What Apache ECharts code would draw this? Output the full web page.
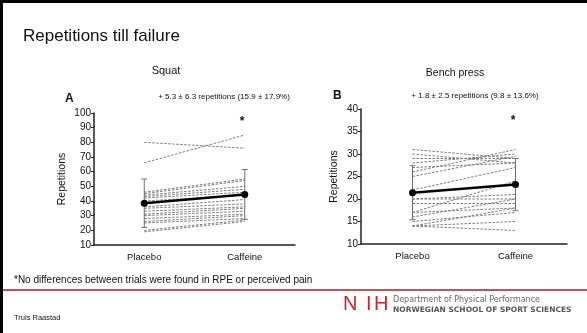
<!DOCTYPE html>
<html>
<head>
<meta charset="utf-8">
<script src="https://cdn.jsdelivr.net/npm/echarts@6/dist/echarts.min.js"></script>
<style>
  html, body { margin: 0; padding: 0; background: #fff; }
  #chart { width: 587px; height: 333px; }
</style>
</head>
<body>
<div id="chart"></div>
<script>
var categories = ['Placebo', 'Caffeine']

// squat, one pair per subject (placebo, caffeine)
var squatPlacebo = [80, 66, 46, 45, 44, 43, 42, 40, 36, 35, 33, 31, 30, 28, 26, 25, 20, 19]
var squatCaffeine = [76, 85, 55, 54, 50, 48, 46, 44, 41, 38, 36, 35, 33, 31, 30, 28, 27, 26]
var squatMean = [38.5, 44.5]
var squatSd = [16.5, 17]
var squatAxis = [10, 100, 10]

// bench press
var benchPlacebo = [31, 30, 29, 28, 27, 26, 25, 22, 20, 20, 19, 17, 17, 16, 15, 14, 14, 14]
var benchCaffeine = [29, 28, 29, 30, 28, 31, 29.5, 27, 21, 20, 19, 24, 18, 20, 17, 18, 13, 15]
var benchMean = [21.4, 23.2]
var benchSd = [6, 5.8]
var benchAxis = [10, 40, 5]

var chart = echarts.init(document.getElementById('chart'))
var font = 'Liberation Sans, Arial, sans-serif'

function subjectSeries(pre, post, idx) {
  return pre.map(function (v, i) {
    return {
      type: 'line',
      xAxisIndex: idx,
      yAxisIndex: idx,
      data: [v, post[i]],
      symbol: 'none',
      silent: true,
      z: 2,
      lineStyle: { color: '#7a7a7a', width: 1, type: [2.5, 1.5] }
    }
  })
}

function errorSeries(mean, sd, idx) {
  return {
    type: 'custom',
    xAxisIndex: idx,
    yAxisIndex: idx,
    silent: true,
    z: 3,
    data: mean.map(function (m, i) { return [i, m - sd[i], m + sd[i]] }),
    renderItem: function (params, api) {
      var lo = api.coord([api.value(0), api.value(1)])
      var hi = api.coord([api.value(0), api.value(2)])
      var st = { stroke: '#6f6f6f', lineWidth: 1 }
      return {
        type: 'group',
        children: [
          { type: 'line', shape: { x1: lo[0], y1: lo[1], x2: hi[0], y2: hi[1] }, style: st },
          { type: 'line', shape: { x1: lo[0] - 3, y1: lo[1], x2: lo[0] + 3, y2: lo[1] }, style: st },
          { type: 'line', shape: { x1: hi[0] - 3, y1: hi[1], x2: hi[0] + 3, y2: hi[1] }, style: st }
        ]
      }
    }
  }
}

function meanSeries(mean, idx) {
  return {
    type: 'line',
    xAxisIndex: idx,
    yAxisIndex: idx,
    data: mean,
    symbol: 'circle',
    symbolSize: 7,
    silent: true,
    z: 5,
    itemStyle: { color: '#000' },
    lineStyle: { color: '#000', width: 2.5 }
  }
}

function xAxis(idx) {
  return {
    type: 'category',
    gridIndex: idx,
    data: categories,
    axisLine: { lineStyle: { color: '#222', width: 1.5 } },
    axisTick: { alignWithLabel: true, length: 4, lineStyle: { color: '#222' } },
    axisLabel: { color: '#111', fontSize: 9.5, fontFamily: font, margin: 7 }
  }
}

function yAxis(idx, ax, gap) {
  return {
    type: 'value',
    gridIndex: idx,
    min: ax[0],
    max: ax[1],
    interval: ax[2],
    name: 'Repetitions',
    nameLocation: 'middle',
    nameGap: gap,
    nameTextStyle: { color: '#111', fontSize: 10.5, fontFamily: font },
    splitLine: { show: false },
    axisLine: { show: true, lineStyle: { color: '#222', width: 1.5 } },
    axisTick: { show: true, length: 3, lineStyle: { color: '#222' } },
    axisLabel: { color: '#111', fontSize: 10, fontFamily: font, margin: 3 }
  }
}

function txt(x, y, s, size, opts) {
  opts = opts || {}
  return {
    type: 'text',
    x: x,
    y: y,
    silent: true,
    style: {
      text: s,
      fill: opts.color || '#111',
      fontSize: size,
      fontFamily: opts.family || font,
      fontWeight: opts.weight || 'normal',
      align: opts.align || 'left',
      verticalAlign: 'middle'
    }
  }
}

chart.setOption({
  animation: false,
  grid: [
    { left: 94, width: 201, top: 113, bottom: 88 },
    { left: 361, width: 206, top: 109, bottom: 89 }
  ],
  xAxis: [xAxis(0), xAxis(1)],
  yAxis: [yAxis(0, squatAxis, 26), yAxis(1, benchAxis, 21)],
  series: []
    .concat(subjectSeries(squatPlacebo, squatCaffeine, 0))
    .concat(subjectSeries(benchPlacebo, benchCaffeine, 1))
    .concat([errorSeries(squatMean, squatSd, 0), errorSeries(benchMean, benchSd, 1)])
    .concat([meanSeries(squatMean, 0), meanSeries(benchMean, 1)]),
  graphic: [
    { type: 'rect', shape: { x: 0, y: 0, width: 587, height: 3 }, style: { fill: '#000' } },
    { type: 'rect', shape: { x: 0, y: 0, width: 3, height: 333 }, style: { fill: '#000' } },
    txt(23, 36, 'Repetitions till failure', 17),
    txt(166, 71, 'Squat', 11, { align: 'center' }),
    txt(455, 73, 'Bench press', 10.5, { align: 'center' }),
    txt(65, 99, 'A', 12, { weight: 'bold' }),
    txt(333, 96, 'B', 12, { weight: 'bold' }),
    txt(224, 97, '+ 5.3 \u00b1 6.3 repetitions (15.9 \u00b1 17.9%)', 8, { align: 'center' }),
    txt(475, 96, '+ 1.8 \u00b1 2.5 repetitions (9.8 \u00b1 13.6%)', 8, { align: 'center' }),
    txt(242, 122, '*', 12, { align: 'center', weight: 'bold' }),
    txt(513, 121, '*', 12, { align: 'center', weight: 'bold' }),
    txt(14, 280, '*No differences between trials were found in RPE or perceived pain', 10),
    { type: 'line', shape: { x1: 3, y1: 290, x2: 587, y2: 290 }, style: { stroke: '#a51c30', lineWidth: 1.5 } },
    txt(14, 318, 'Truls Raastad', 7.5),
    txt(343, 304, 'N', 20, { color: '#d2232a' }),
    txt(366, 304, 'I', 20, { color: '#d2232a' }),
    txt(374, 304, 'H', 20, { color: '#d2232a' }),
    txt(393, 300, 'Department of Physical Performance', 8, { color: '#666', family: 'DejaVu Sans' }),
    txt(393, 310, 'NORWEGIAN SCHOOL OF SPORT SCIENCES', 7.5, { color: '#555', family: 'DejaVu Sans', weight: 'bold' })
  ]
})
</script>
</body>
</html>
